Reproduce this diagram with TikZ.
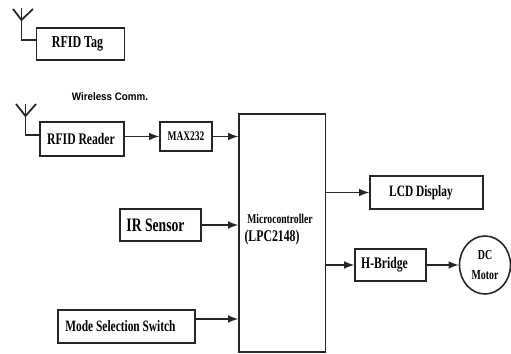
\documentclass[tikz,border=0pt]{standalone}
\usepackage{fontspec}
\setmainfont[FakeStretch=0.72]{Liberation Serif}
\newfontfamily\labelfont[FakeStretch=0.9]{Liberation Sans}
\usetikzlibrary{arrows,calc,shapes.geometric}
\definecolor{BlockClr}{gray}{0.15}
\tikzset{
  block/.style={draw=BlockClr,line width=.9pt,minimum width=#1,inner sep=0pt,font=\bfseries},
  wire/.style={draw=BlockClr,line width=1pt},
  feed/.style={wire,-latex},
}
\begin{document}
\begin{tikzpicture}[x=.02cm,y=-.02cm]
\useasboundingbox (0,0) rectangle (511,354);

\node[block=1.76cm,minimum height=.64cm,font=\bfseries\fontsize{9.5}{10}\selectfont] (tag) at (80.5,44) {RFID Tag\kern.12cm};
\node[block=1.68cm,minimum height=.68cm,font=\bfseries\fontsize{9.2}{10}\selectfont] (reader) at (82,139) {RFID Reader\kern.04cm};
\node[block=1.04cm,minimum height=.58cm,font=\bfseries\fontsize{7.5}{8}\selectfont] (max) at (186,136.5) {MAX232};
\node[block=1.73cm,minimum height=4.76cm] (micro) at (282.25,233) {};
\node[block=1.62cm,minimum height=.64cm,font=\bfseries\fontsize{10.8}{12}\selectfont] (ir) at (160.5,225) {IR Sensor\kern.2cm};
\node[block=2.74cm,minimum height=.66cm,font=\bfseries\fontsize{9}{9}\selectfont] (mode) at (126.5,326.5) {Mode Selection Switch\kern.24cm};
\node[block=2.26cm,minimum height=.66cm,font=\bfseries\fontsize{9}{11}\selectfont] (lcd) at (426.5,192.5) {LCD Display\kern.22cm};
\node[block=1.42cm,minimum height=.64cm,font=\bfseries\fontsize{9.2}{11}\selectfont] (bridge) at (390.5,265) {H-Bridge\kern.24cm};
\node[draw=BlockClr,line width=.9pt,ellipse,minimum width=1.02cm,minimum height=1.16cm,inner sep=0pt,align=center,font=\bfseries\fontsize{7.8}{11}\selectfont] (motor) at (485,265) {DC\\Motor};

\node[font=\bfseries\fontsize{7.6}{8}\selectfont] (ctrl) at (280,219) {Microcontroller};
\node[font=\bfseries\fontsize{9.3}{9}\selectfont] (lpc) at (272,238) {(LPC2148)};
\node[font=\labelfont\bfseries\fontsize{6.2}{7}\selectfont] (comm) at (110,97) {Wireless Comm.};

\coordinate (tagfoot) at (21.5,40);
\coordinate (tagtip) at (21.5,20);
\coordinate (tagtop) at (21.5,8);
\coordinate (tagl) at (13,9);
\coordinate (tagr) at (33,9);
\coordinate (readerfoot) at (25.5,135);
\coordinate (readertip) at (25.5,116);
\coordinate (readertop) at (25.5,104);
\coordinate (readerl) at (16,104);
\coordinate (readerr) at (36,104);
\coordinate (modeout) at (mode.east |- 0,319);

\draw[wire] (tagfoot -| tag.west) -- (tagfoot) -- (tagtop);
\draw[wire] (tagl) -- (tagtip) -- (tagr);
\draw[wire] (readerfoot -| reader.west) -- (readerfoot) -- (readertop);
\draw[wire] (readerl) -- (readertip) -- (readerr);

\draw[feed] (reader.east |- max.west) -- (max.west);
\draw[feed] (max.east) -- (max.east -| micro.west);
\draw[feed] (ir.east) -- (ir.east -| micro.west);
\draw[feed] (modeout) -- (modeout -| micro.west);
\draw[feed] (micro.east |- lcd.west) -- (lcd.west);
\draw[feed] (micro.east |- bridge.west) -- (bridge.west);
\draw[feed] (bridge.east) -- (motor.west);
\end{tikzpicture}
\end{document}
